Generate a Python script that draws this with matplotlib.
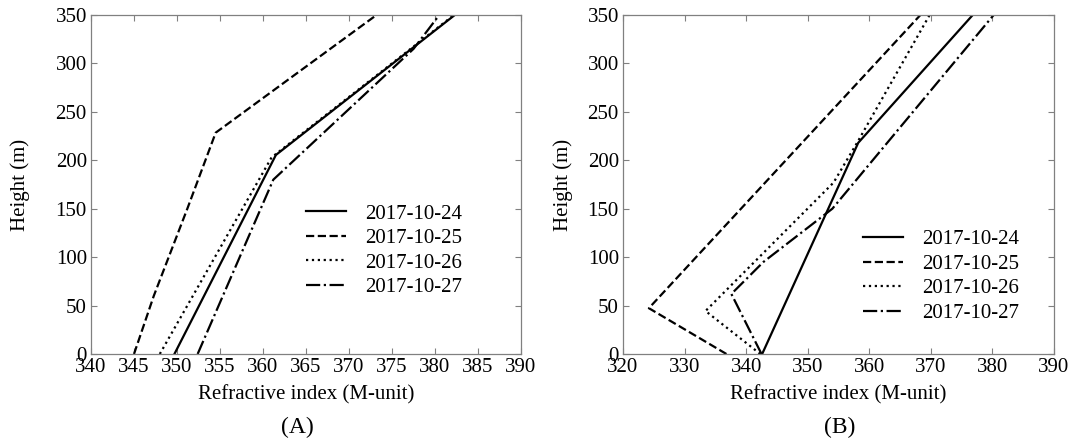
#!/usr/bin/env python3
import numpy as np
import matplotlib as mpl
mpl.use('Agg')
import matplotlib.pyplot as plt

# Figure parameters
W, H = 1076, 445
dpi = 100
fs = 15
spine_color = '#808080'

# Panel (A) data: height (m) and refractive index (M-unit)
dates = ['2017-10-24', '2017-10-25', '2017-10-26', '2017-10-27']
h_a_24 = [0, 205.5, 350]
m_a_24 = [349.7, 361.5, 382.3]
h_a_25 = [0, 60, 150, 228.5, 350]
m_a_25 = [345.0, 347.3, 351.2, 354.5, 373.2]
h_a_26 = [0, 203, 350]
m_a_26 = [348.0, 361.0, 382.2]
h_a_27 = [0, 180, 315, 350]
m_a_27 = [352.4, 361.2, 377.5, 380.5]

# Panel (B) data
h_b_24 = [0, 218, 350]
m_b_24 = [342.6, 358.2, 376.8]
h_b_25 = [0, 47.3, 350]
m_b_25 = [336.8, 324.2, 368.3]
h_b_26 = [0, 44.4, 177, 219, 350]
m_b_26 = [342.3, 333.4, 354.2, 358.1, 369.8]
h_b_27 = [0, 62, 95, 150, 350]
m_b_27 = [342.5, 337.6, 342.8, 354.0, 380.2]

styles = ['-', '--', ':', '-.']

plt.rcParams['font.family'] = ['Liberation Serif', 'DejaVu Serif']
plt.rcParams['font.size'] = fs


def style_axes(ax, xlim, xstep):
    ax.set_xlim(xlim)
    ax.set_ylim(0, 350)
    ax.set_xticks(np.arange(xlim[0], xlim[1] + 1, xstep))
    ax.set_yticks(np.arange(0, 351, 50))
    ax.tick_params(direction='in', top=True, right=True, length=4,
                   width=0.8, color=spine_color, labelsize=fs, pad=3)
    for s in ax.spines.values():
        s.set_color(spine_color)
        s.set_linewidth(0.9)
    ax.set_xlabel('Refractive index (M-unit)', fontsize=fs)
    ax.set_ylabel('Height (m)', fontsize=fs)


def plot_panel(ax, series, leg_x, leg_y):
    for (m, h), ls, lab in zip(series, styles, dates):
        ax.plot(m, h, color='k', ls=ls, lw=1.6, label=lab)
    ax.legend(loc='center left', bbox_to_anchor=(leg_x, leg_y), frameon=False,
              fontsize=fs, handlelength=1.95, handletextpad=0.9,
              labelspacing=0.24, borderpad=0, borderaxespad=0)


def main():
    fig = plt.figure(figsize=(W / dpi, H / dpi), dpi=dpi)
    ax1 = fig.add_axes((91 / W, 1 - 354 / H, 430 / W, 339 / H))
    ax2 = fig.add_axes((623 / W, 1 - 354 / H, 431 / W, 339 / H))

    style_axes(ax1, (340, 390), 5)
    style_axes(ax2, (320, 390), 10)

    plot_panel(ax1, [(m_a_24, h_a_24), (m_a_25, h_a_25), (m_a_26, h_a_26), (m_a_27, h_a_27)],
               0.499, 0.305)
    plot_panel(ax2, [(m_b_24, h_b_24), (m_b_25, h_b_25), (m_b_26, h_b_26), (m_b_27, h_b_27)],
               0.556, 0.229)

    # Axis label placement
    ax1.yaxis.set_label_coords((20 - 91) / 430, 0.5)
    ax2.yaxis.set_label_coords((563 - 623) / 431, 0.5)
    ax1.xaxis.set_label_coords(0.5, -(395 - 354) / 339)
    ax2.xaxis.set_label_coords(0.5, -(395 - 354) / 339)
    for lab in (ax1.xaxis.label, ax2.xaxis.label, ax1.yaxis.label, ax2.yaxis.label):
        lab.set_va('center')

    fig.text(297 / W, 1 - 427 / H, '(A)', ha='center', va='center', fontsize=17)
    fig.text(840 / W, 1 - 427 / H, '(B)', ha='center', va='center', fontsize=17)

    fig.savefig('out.png', dpi=dpi)


if (__name__ == "__main__"):
    main()
